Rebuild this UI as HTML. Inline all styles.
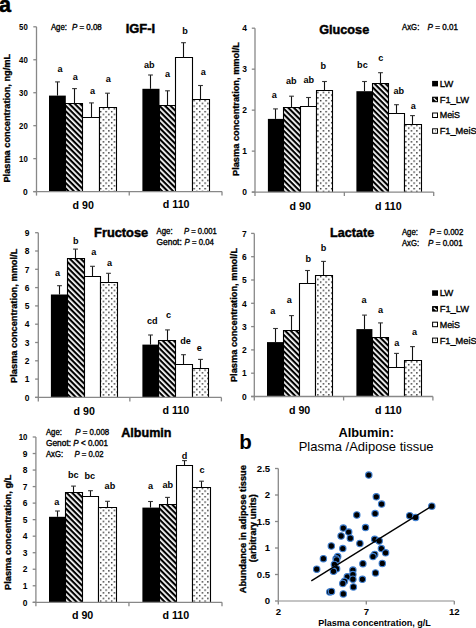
<!DOCTYPE html>
<html><head><meta charset="utf-8"><style>
html,body{margin:0;padding:0;background:#fff;width:476px;height:628px;overflow:hidden}
svg{display:block}
</style></head><body>
<svg width="476" height="628" viewBox="0 0 476 628" font-family='"Liberation Sans", sans-serif'>
<defs>
<pattern id="hatch" patternUnits="userSpaceOnUse" width="3.9" height="3.9" patternTransform="rotate(-45)">
<rect width="3.9" height="3.9" fill="#000"/><rect x="0" y="0" width="1.75" height="3.9" fill="#fff"/>
</pattern>
<pattern id="dots" patternUnits="userSpaceOnUse" width="5.5" height="5.5">
<rect width="5.5" height="5.5" fill="#fff"/>
<rect x="1" y="1" width="1.3" height="1.3" fill="#000"/>
<rect x="3.75" y="3.75" width="1.3" height="1.3" fill="#000"/>
</pattern>
</defs>
<rect width="476" height="628" fill="#fff"/>
<text x="-0.9" y="11.5" font-size="21.5" font-weight="bold" text-anchor="start" fill="#000" stroke="#000" stroke-width="0.6">a</text>
<text x="239.2" y="448.9" font-size="20.5" font-weight="bold" text-anchor="start" fill="#000">b</text>
<rect x="49.00" y="95.6" width="16.80" height="96.00" fill="#000"/>
<rect x="65.80" y="103.1" width="17.20" height="88.50" fill="url(#hatch)"/>
<path d="M65.5 191.6V103.5H82.5V191.6" fill="none" stroke="#000" stroke-width="1.1"/>
<rect x="83.00" y="117.7" width="16.50" height="73.90" fill="#fff"/>
<path d="M82.5 191.6V117.5H99.5V191.6" fill="none" stroke="#000" stroke-width="1.1"/>
<rect x="99.50" y="107.1" width="17.10" height="84.50" fill="url(#dots)"/>
<path d="M99.5 191.6V107.5H116.5V191.6" fill="none" stroke="#000" stroke-width="1.1"/>
<line x1="57.5" y1="95.6" x2="57.5" y2="81.9" stroke="#111" stroke-width="1.1"/>
<line x1="55.1" y1="81.9" x2="59.9" y2="81.9" stroke="#333" stroke-width="1.1"/>
<line x1="74.5" y1="103.1" x2="74.5" y2="88.6" stroke="#111" stroke-width="1.1"/>
<line x1="72.1" y1="88.6" x2="76.9" y2="88.6" stroke="#333" stroke-width="1.1"/>
<line x1="91.5" y1="117.7" x2="91.5" y2="102.9" stroke="#111" stroke-width="1.1"/>
<line x1="89.1" y1="102.9" x2="93.9" y2="102.9" stroke="#333" stroke-width="1.1"/>
<line x1="107.5" y1="107.1" x2="107.5" y2="93.2" stroke="#111" stroke-width="1.1"/>
<line x1="105.1" y1="93.2" x2="109.9" y2="93.2" stroke="#333" stroke-width="1.1"/>
<rect x="142.40" y="88.8" width="17.10" height="102.80" fill="#000"/>
<rect x="159.50" y="105.7" width="16.50" height="85.90" fill="url(#hatch)"/>
<path d="M159.5 191.6V105.5H175.5V191.6" fill="none" stroke="#000" stroke-width="1.1"/>
<rect x="176.00" y="57.8" width="16.30" height="133.80" fill="#fff"/>
<path d="M175.5 191.6V57.5H192.5V191.6" fill="none" stroke="#000" stroke-width="1.1"/>
<rect x="192.30" y="99.7" width="17.70" height="91.90" fill="url(#dots)"/>
<path d="M192.5 191.6V99.5H209.5V191.6" fill="none" stroke="#000" stroke-width="1.1"/>
<line x1="150.5" y1="88.8" x2="150.5" y2="75.0" stroke="#111" stroke-width="1.1"/>
<line x1="148.1" y1="75.0" x2="152.9" y2="75.0" stroke="#333" stroke-width="1.1"/>
<line x1="167.5" y1="105.7" x2="167.5" y2="90.8" stroke="#111" stroke-width="1.1"/>
<line x1="165.1" y1="90.8" x2="169.9" y2="90.8" stroke="#333" stroke-width="1.1"/>
<line x1="183.5" y1="57.8" x2="183.5" y2="42.7" stroke="#111" stroke-width="1.1"/>
<line x1="181.1" y1="42.7" x2="185.9" y2="42.7" stroke="#333" stroke-width="1.1"/>
<line x1="200.5" y1="99.7" x2="200.5" y2="85.5" stroke="#111" stroke-width="1.1"/>
<line x1="198.1" y1="85.5" x2="202.9" y2="85.5" stroke="#333" stroke-width="1.1"/>
<line x1="36.5" y1="26.8" x2="36.5" y2="191.6" stroke="#888888" stroke-width="1.3"/>
<line x1="33.3" y1="191.6" x2="222" y2="191.6" stroke="#888888" stroke-width="1.3"/>
<line x1="33.3" y1="191.6" x2="36.5" y2="191.6" stroke="#888888" stroke-width="1.3"/>
<text x="27.8" y="194.79999999999998" font-size="9" font-weight="bold" text-anchor="end" textLength="4.7" lengthAdjust="spacingAndGlyphs" fill="#000">0</text>
<line x1="33.3" y1="158.64" x2="36.5" y2="158.64" stroke="#888888" stroke-width="1.3"/>
<text x="27.8" y="161.83999999999997" font-size="9" font-weight="bold" text-anchor="end" textLength="8.7" lengthAdjust="spacingAndGlyphs" fill="#000">10</text>
<line x1="33.3" y1="125.68" x2="36.5" y2="125.68" stroke="#888888" stroke-width="1.3"/>
<text x="27.8" y="128.88" font-size="9" font-weight="bold" text-anchor="end" textLength="8.7" lengthAdjust="spacingAndGlyphs" fill="#000">20</text>
<line x1="33.3" y1="92.72" x2="36.5" y2="92.72" stroke="#888888" stroke-width="1.3"/>
<text x="27.8" y="95.92" font-size="9" font-weight="bold" text-anchor="end" textLength="8.7" lengthAdjust="spacingAndGlyphs" fill="#000">30</text>
<line x1="33.3" y1="59.76000000000002" x2="36.5" y2="59.76000000000002" stroke="#888888" stroke-width="1.3"/>
<text x="27.8" y="62.96000000000002" font-size="9" font-weight="bold" text-anchor="end" textLength="8.7" lengthAdjust="spacingAndGlyphs" fill="#000">40</text>
<line x1="33.3" y1="26.80000000000001" x2="36.5" y2="26.80000000000001" stroke="#888888" stroke-width="1.3"/>
<text x="27.8" y="30.00000000000001" font-size="9" font-weight="bold" text-anchor="end" textLength="8.7" lengthAdjust="spacingAndGlyphs" fill="#000">50</text>
<line x1="36.5" y1="191.6" x2="36.5" y2="195.6" stroke="#888888" stroke-width="1.3"/>
<line x1="129.25" y1="191.6" x2="129.25" y2="195.6" stroke="#888888" stroke-width="1.3"/>
<line x1="222" y1="191.6" x2="222" y2="195.6" stroke="#888888" stroke-width="1.3"/>
<text x="57.6" y="71.8" font-size="9.1" font-weight="bold" text-anchor="start" fill="#000">a</text>
<text x="72.7" y="79.9" font-size="9.1" font-weight="bold" text-anchor="start" fill="#000">a</text>
<text x="90.0" y="93.7" font-size="9.1" font-weight="bold" text-anchor="start" fill="#000">a</text>
<text x="105.8" y="81.9" font-size="9.1" font-weight="bold" text-anchor="start" fill="#000">a</text>
<text x="144.0" y="67.9" font-size="9.1" font-weight="bold" text-anchor="start" fill="#000">ab</text>
<text x="165.0" y="76.7" font-size="9.1" font-weight="bold" text-anchor="start" fill="#000">a</text>
<text x="182.3" y="34.4" font-size="9.1" font-weight="bold" text-anchor="start" fill="#000">b</text>
<text x="200.7" y="74.7" font-size="9.1" font-weight="bold" text-anchor="start" fill="#000">a</text>
<text x="83.2" y="208.5" font-size="10.2" font-weight="bold" text-anchor="middle" textLength="21.3" lengthAdjust="spacingAndGlyphs" fill="#000">d 90</text>
<text x="176.2" y="208.4" font-size="10.2" font-weight="bold" text-anchor="middle" textLength="26.7" lengthAdjust="spacingAndGlyphs" fill="#000">d 110</text>
<text x="125.7" y="33.3" font-size="12.6" font-weight="bold" text-anchor="start" textLength="29.4" lengthAdjust="spacingAndGlyphs" fill="#000" stroke="#000" stroke-width="0.45">IGF-I</text>
<text transform="translate(9.7,118.25) rotate(-90)" x="0" y="0" font-size="8.6" font-weight="bold" stroke="#000" stroke-width="0.3" text-anchor="middle" textLength="128.7" lengthAdjust="spacingAndGlyphs">Plasma concentration, ng/mL</text>
<text x="50.9" y="29.8" font-size="8.4" text-anchor="start" textLength="16.0" lengthAdjust="spacingAndGlyphs" fill="#000" stroke="#000" stroke-width="0.35">Age:</text>
<text x="71.9" y="29.8" font-size="8.4" font-style="italic" textLength="29.9" lengthAdjust="spacingAndGlyphs" stroke="#000" stroke-width="0.35">P<tspan font-style="normal"> = 0.08</tspan></text>
<rect x="267.90" y="118.9" width="15.90" height="73.20" fill="#000"/>
<rect x="283.80" y="107.6" width="16.50" height="84.50" fill="url(#hatch)"/>
<path d="M283.5 192.1V107.5H300.5V192.1" fill="none" stroke="#000" stroke-width="1.1"/>
<rect x="300.30" y="106.4" width="16.00" height="85.70" fill="#fff"/>
<path d="M300.5 192.1V106.5H316.5V192.1" fill="none" stroke="#000" stroke-width="1.1"/>
<rect x="316.30" y="90.5" width="16.30" height="101.60" fill="url(#dots)"/>
<path d="M316.5 192.1V90.5H332.5V192.1" fill="none" stroke="#000" stroke-width="1.1"/>
<line x1="275.5" y1="118.9" x2="275.5" y2="108.9" stroke="#111" stroke-width="1.1"/>
<line x1="273.1" y1="108.9" x2="277.9" y2="108.9" stroke="#333" stroke-width="1.1"/>
<line x1="291.5" y1="107.6" x2="291.5" y2="96.2" stroke="#111" stroke-width="1.1"/>
<line x1="289.1" y1="96.2" x2="293.9" y2="96.2" stroke="#333" stroke-width="1.1"/>
<line x1="308.5" y1="106.4" x2="308.5" y2="97.5" stroke="#111" stroke-width="1.1"/>
<line x1="306.1" y1="97.5" x2="310.9" y2="97.5" stroke="#333" stroke-width="1.1"/>
<line x1="324.5" y1="90.5" x2="324.5" y2="81.5" stroke="#111" stroke-width="1.1"/>
<line x1="322.1" y1="81.5" x2="326.9" y2="81.5" stroke="#333" stroke-width="1.1"/>
<rect x="356.40" y="91.2" width="16.30" height="100.90" fill="#000"/>
<rect x="372.70" y="83.7" width="16.30" height="108.40" fill="url(#hatch)"/>
<path d="M372.5 192.1V83.5H388.5V192.1" fill="none" stroke="#000" stroke-width="1.1"/>
<rect x="389.00" y="113.9" width="15.60" height="78.20" fill="#fff"/>
<path d="M388.5 192.1V113.5H404.5V192.1" fill="none" stroke="#000" stroke-width="1.1"/>
<rect x="404.60" y="124.0" width="16.80" height="68.10" fill="url(#dots)"/>
<path d="M404.5 192.1V124.5H421.5V192.1" fill="none" stroke="#000" stroke-width="1.1"/>
<line x1="364.5" y1="91.2" x2="364.5" y2="81.5" stroke="#111" stroke-width="1.1"/>
<line x1="362.1" y1="81.5" x2="366.9" y2="81.5" stroke="#333" stroke-width="1.1"/>
<line x1="380.5" y1="83.7" x2="380.5" y2="72.7" stroke="#111" stroke-width="1.1"/>
<line x1="378.1" y1="72.7" x2="382.9" y2="72.7" stroke="#333" stroke-width="1.1"/>
<line x1="396.5" y1="113.9" x2="396.5" y2="104.7" stroke="#111" stroke-width="1.1"/>
<line x1="394.1" y1="104.7" x2="398.9" y2="104.7" stroke="#333" stroke-width="1.1"/>
<line x1="412.5" y1="124.0" x2="412.5" y2="115.6" stroke="#111" stroke-width="1.1"/>
<line x1="410.1" y1="115.6" x2="414.9" y2="115.6" stroke="#333" stroke-width="1.1"/>
<line x1="255.0" y1="28.2" x2="255.0" y2="192.1" stroke="#888888" stroke-width="1.3"/>
<line x1="251.8" y1="192.1" x2="433.7" y2="192.1" stroke="#888888" stroke-width="1.3"/>
<line x1="251.8" y1="192.1" x2="255.0" y2="192.1" stroke="#888888" stroke-width="1.3"/>
<text x="247.0" y="195.29999999999998" font-size="9" font-weight="bold" text-anchor="end" textLength="4.7" lengthAdjust="spacingAndGlyphs" fill="#000">0</text>
<line x1="251.8" y1="151.125" x2="255.0" y2="151.125" stroke="#888888" stroke-width="1.3"/>
<text x="247.0" y="154.325" font-size="9" font-weight="bold" text-anchor="end" textLength="4.7" lengthAdjust="spacingAndGlyphs" fill="#000">1</text>
<line x1="251.8" y1="110.14999999999999" x2="255.0" y2="110.14999999999999" stroke="#888888" stroke-width="1.3"/>
<text x="247.0" y="113.35" font-size="9" font-weight="bold" text-anchor="end" textLength="4.7" lengthAdjust="spacingAndGlyphs" fill="#000">2</text>
<line x1="251.8" y1="69.17499999999998" x2="255.0" y2="69.17499999999998" stroke="#888888" stroke-width="1.3"/>
<text x="247.0" y="72.37499999999999" font-size="9" font-weight="bold" text-anchor="end" textLength="4.7" lengthAdjust="spacingAndGlyphs" fill="#000">3</text>
<line x1="251.8" y1="28.19999999999999" x2="255.0" y2="28.19999999999999" stroke="#888888" stroke-width="1.3"/>
<text x="247.0" y="31.399999999999988" font-size="9" font-weight="bold" text-anchor="end" textLength="4.7" lengthAdjust="spacingAndGlyphs" fill="#000">4</text>
<line x1="255.0" y1="192.1" x2="255.0" y2="196.1" stroke="#888888" stroke-width="1.3"/>
<line x1="344.35" y1="192.1" x2="344.35" y2="196.1" stroke="#888888" stroke-width="1.3"/>
<line x1="433.7" y1="192.1" x2="433.7" y2="196.1" stroke="#888888" stroke-width="1.3"/>
<text x="271.7" y="98.1" font-size="9.1" font-weight="bold" text-anchor="start" fill="#000">a</text>
<text x="285.9" y="84.3" font-size="9.1" font-weight="bold" text-anchor="start" fill="#000">ab</text>
<text x="303.5" y="83.4" font-size="9.1" font-weight="bold" text-anchor="start" fill="#000">ab</text>
<text x="320.5" y="69.2" font-size="9.1" font-weight="bold" text-anchor="start" fill="#000">b</text>
<text x="357.1" y="68.2" font-size="9.1" font-weight="bold" text-anchor="start" fill="#000">bc</text>
<text x="378.2" y="60.5" font-size="9.1" font-weight="bold" text-anchor="start" fill="#000">c</text>
<text x="393.4" y="93.7" font-size="9.1" font-weight="bold" text-anchor="start" fill="#000">ab</text>
<text x="410.8" y="109.2" font-size="9.1" font-weight="bold" text-anchor="start" fill="#000">a</text>
<text x="300.2" y="209.5" font-size="10.2" font-weight="bold" text-anchor="middle" textLength="21.3" lengthAdjust="spacingAndGlyphs" fill="#000">d 90</text>
<text x="388.3" y="209.5" font-size="10.2" font-weight="bold" text-anchor="middle" textLength="26.7" lengthAdjust="spacingAndGlyphs" fill="#000">d 110</text>
<text x="319.2" y="34.0" font-size="13.2" font-weight="bold" text-anchor="start" textLength="50.0" lengthAdjust="spacingAndGlyphs" fill="#000" stroke="#000" stroke-width="0.45">Glucose</text>
<text transform="translate(238.6,109.0) rotate(-90)" x="0" y="0" font-size="8.6" font-weight="bold" stroke="#000" stroke-width="0.3" text-anchor="middle" textLength="134.0" lengthAdjust="spacingAndGlyphs">Plasma concentration, mmol/L</text>
<text x="402.1" y="30.1" font-size="8.4" text-anchor="start" textLength="17.2" lengthAdjust="spacingAndGlyphs" fill="#000" stroke="#000" stroke-width="0.35">AxG:</text>
<text x="427.6" y="30.1" font-size="8.4" font-style="italic" textLength="30.3" lengthAdjust="spacingAndGlyphs" stroke="#000" stroke-width="0.35">P<tspan font-style="normal"> = 0.01</tspan></text>
<rect x="432.1" y="80.90" width="5.9" height="5.5" fill="#000"/>
<text x="439.7" y="86.8" font-size="9.8" text-anchor="start" textLength="13.6" lengthAdjust="spacingAndGlyphs" fill="#000" stroke="#000" stroke-width="0.35">LW</text>
<rect x="432.6" y="97.20" width="4.9" height="4.5" fill="#000" stroke="#000" stroke-width="1"/>
<line x1="433.70000000000005" y1="98.30" x2="436.70000000000005" y2="100.90" stroke="#fff" stroke-width="1.2"/>
<text x="439.7" y="102.6" font-size="9.8" text-anchor="start" textLength="29.4" lengthAdjust="spacingAndGlyphs" fill="#000" stroke="#000" stroke-width="0.35">F1_LW</text>
<rect x="432.6" y="113.00" width="4.9" height="4.5" fill="#fff" stroke="#000" stroke-width="1"/>
<text x="439.7" y="118.4" font-size="9.8" text-anchor="start" textLength="20.4" lengthAdjust="spacingAndGlyphs" fill="#000" stroke="#000" stroke-width="0.35">MeiS</text>
<rect x="432.6" y="128.80" width="4.9" height="4.5" fill="#fff" stroke="#000" stroke-width="1"/>
<rect x="435.1" y="130.30" width="1" height="1" fill="#666"/>
<text x="439.7" y="134.2" font-size="9.8" text-anchor="start" textLength="37.0" lengthAdjust="spacingAndGlyphs" fill="#000" stroke="#000" stroke-width="0.35">F1_MeiS</text>
<rect x="50.90" y="294.5" width="16.80" height="102.90" fill="#000"/>
<rect x="67.70" y="258.4" width="16.80" height="139.00" fill="url(#hatch)"/>
<path d="M67.5 397.4V258.5H84.5V397.4" fill="none" stroke="#000" stroke-width="1.1"/>
<rect x="84.50" y="276.3" width="16.00" height="121.10" fill="#fff"/>
<path d="M84.5 397.4V276.5H100.5V397.4" fill="none" stroke="#000" stroke-width="1.1"/>
<rect x="100.50" y="282.4" width="17.10" height="115.00" fill="url(#dots)"/>
<path d="M100.5 397.4V282.5H117.5V397.4" fill="none" stroke="#000" stroke-width="1.1"/>
<line x1="59.5" y1="294.5" x2="59.5" y2="285.7" stroke="#111" stroke-width="1.1"/>
<line x1="57.1" y1="285.7" x2="61.9" y2="285.7" stroke="#333" stroke-width="1.1"/>
<line x1="75.5" y1="258.4" x2="75.5" y2="249.1" stroke="#111" stroke-width="1.1"/>
<line x1="73.1" y1="249.1" x2="77.9" y2="249.1" stroke="#333" stroke-width="1.1"/>
<line x1="92.5" y1="276.3" x2="92.5" y2="266.3" stroke="#111" stroke-width="1.1"/>
<line x1="90.1" y1="266.3" x2="94.9" y2="266.3" stroke="#333" stroke-width="1.1"/>
<line x1="108.5" y1="282.4" x2="108.5" y2="273.3" stroke="#111" stroke-width="1.1"/>
<line x1="106.1" y1="273.3" x2="110.9" y2="273.3" stroke="#333" stroke-width="1.1"/>
<rect x="142.40" y="344.6" width="16.80" height="52.80" fill="#000"/>
<rect x="159.20" y="340.2" width="16.80" height="57.20" fill="url(#hatch)"/>
<path d="M158.5 397.4V340.5H175.5V397.4" fill="none" stroke="#000" stroke-width="1.1"/>
<rect x="176.00" y="364.3" width="16.30" height="33.10" fill="#fff"/>
<path d="M175.5 397.4V364.5H192.5V397.4" fill="none" stroke="#000" stroke-width="1.1"/>
<rect x="192.30" y="368.1" width="16.80" height="29.30" fill="url(#dots)"/>
<path d="M192.5 397.4V368.5H208.5V397.4" fill="none" stroke="#000" stroke-width="1.1"/>
<line x1="150.5" y1="344.6" x2="150.5" y2="335.0" stroke="#111" stroke-width="1.1"/>
<line x1="148.1" y1="335.0" x2="152.9" y2="335.0" stroke="#333" stroke-width="1.1"/>
<line x1="167.5" y1="340.2" x2="167.5" y2="329.9" stroke="#111" stroke-width="1.1"/>
<line x1="165.1" y1="329.9" x2="169.9" y2="329.9" stroke="#333" stroke-width="1.1"/>
<line x1="183.5" y1="364.3" x2="183.5" y2="354.7" stroke="#111" stroke-width="1.1"/>
<line x1="181.1" y1="354.7" x2="185.9" y2="354.7" stroke="#333" stroke-width="1.1"/>
<line x1="200.5" y1="368.1" x2="200.5" y2="359.4" stroke="#111" stroke-width="1.1"/>
<line x1="198.1" y1="359.4" x2="202.9" y2="359.4" stroke="#333" stroke-width="1.1"/>
<line x1="38.3" y1="232.7" x2="38.3" y2="397.4" stroke="#888888" stroke-width="1.3"/>
<line x1="35.099999999999994" y1="397.4" x2="221.4" y2="397.4" stroke="#888888" stroke-width="1.3"/>
<line x1="35.099999999999994" y1="397.4" x2="38.3" y2="397.4" stroke="#888888" stroke-width="1.3"/>
<text x="29.4" y="400.59999999999997" font-size="9" font-weight="bold" text-anchor="end" textLength="4.7" lengthAdjust="spacingAndGlyphs" fill="#000">0</text>
<line x1="35.099999999999994" y1="379.09999999999997" x2="38.3" y2="379.09999999999997" stroke="#888888" stroke-width="1.3"/>
<text x="29.4" y="382.29999999999995" font-size="9" font-weight="bold" text-anchor="end" textLength="4.7" lengthAdjust="spacingAndGlyphs" fill="#000">1</text>
<line x1="35.099999999999994" y1="360.79999999999995" x2="38.3" y2="360.79999999999995" stroke="#888888" stroke-width="1.3"/>
<text x="29.4" y="363.99999999999994" font-size="9" font-weight="bold" text-anchor="end" textLength="4.7" lengthAdjust="spacingAndGlyphs" fill="#000">2</text>
<line x1="35.099999999999994" y1="342.5" x2="38.3" y2="342.5" stroke="#888888" stroke-width="1.3"/>
<text x="29.4" y="345.7" font-size="9" font-weight="bold" text-anchor="end" textLength="4.7" lengthAdjust="spacingAndGlyphs" fill="#000">3</text>
<line x1="35.099999999999994" y1="324.2" x2="38.3" y2="324.2" stroke="#888888" stroke-width="1.3"/>
<text x="29.4" y="327.4" font-size="9" font-weight="bold" text-anchor="end" textLength="4.7" lengthAdjust="spacingAndGlyphs" fill="#000">4</text>
<line x1="35.099999999999994" y1="305.9" x2="38.3" y2="305.9" stroke="#888888" stroke-width="1.3"/>
<text x="29.4" y="309.09999999999997" font-size="9" font-weight="bold" text-anchor="end" textLength="4.7" lengthAdjust="spacingAndGlyphs" fill="#000">5</text>
<line x1="35.099999999999994" y1="287.59999999999997" x2="38.3" y2="287.59999999999997" stroke="#888888" stroke-width="1.3"/>
<text x="29.4" y="290.79999999999995" font-size="9" font-weight="bold" text-anchor="end" textLength="4.7" lengthAdjust="spacingAndGlyphs" fill="#000">6</text>
<line x1="35.099999999999994" y1="269.29999999999995" x2="38.3" y2="269.29999999999995" stroke="#888888" stroke-width="1.3"/>
<text x="29.4" y="272.49999999999994" font-size="9" font-weight="bold" text-anchor="end" textLength="4.7" lengthAdjust="spacingAndGlyphs" fill="#000">7</text>
<line x1="35.099999999999994" y1="251.0" x2="38.3" y2="251.0" stroke="#888888" stroke-width="1.3"/>
<text x="29.4" y="254.2" font-size="9" font-weight="bold" text-anchor="end" textLength="4.7" lengthAdjust="spacingAndGlyphs" fill="#000">8</text>
<line x1="35.099999999999994" y1="232.7" x2="38.3" y2="232.7" stroke="#888888" stroke-width="1.3"/>
<text x="29.4" y="235.89999999999998" font-size="9" font-weight="bold" text-anchor="end" textLength="4.7" lengthAdjust="spacingAndGlyphs" fill="#000">9</text>
<line x1="38.3" y1="397.4" x2="38.3" y2="401.4" stroke="#888888" stroke-width="1.3"/>
<line x1="129.85" y1="397.4" x2="129.85" y2="401.4" stroke="#888888" stroke-width="1.3"/>
<line x1="221.4" y1="397.4" x2="221.4" y2="401.4" stroke="#888888" stroke-width="1.3"/>
<text x="55.0" y="276.1" font-size="9.1" font-weight="bold" text-anchor="start" fill="#000">a</text>
<text x="73.1" y="244.1" font-size="9.1" font-weight="bold" text-anchor="start" fill="#000">b</text>
<text x="91.3" y="254.9" font-size="9.1" font-weight="bold" text-anchor="start" fill="#000">a</text>
<text x="107.1" y="265.5" font-size="9.1" font-weight="bold" text-anchor="start" fill="#000">a</text>
<text x="146.9" y="324.1" font-size="9.1" font-weight="bold" text-anchor="start" fill="#000">cd</text>
<text x="166.0" y="318.1" font-size="9.1" font-weight="bold" text-anchor="start" fill="#000">c</text>
<text x="180.3" y="344.0" font-size="9.1" font-weight="bold" text-anchor="start" fill="#000">de</text>
<text x="196.8" y="350.6" font-size="9.1" font-weight="bold" text-anchor="start" fill="#000">e</text>
<text x="84.2" y="414.5" font-size="10.2" font-weight="bold" text-anchor="middle" textLength="21.3" lengthAdjust="spacingAndGlyphs" fill="#000">d 90</text>
<text x="175.8" y="414.2" font-size="10.2" font-weight="bold" text-anchor="middle" textLength="26.7" lengthAdjust="spacingAndGlyphs" fill="#000">d 110</text>
<text x="94.1" y="237.2" font-size="12.6" font-weight="bold" text-anchor="start" textLength="54.1" lengthAdjust="spacingAndGlyphs" fill="#000" stroke="#000" stroke-width="0.45">Fructose</text>
<text transform="translate(16.6,315.8) rotate(-90)" x="0" y="0" font-size="8.6" font-weight="bold" stroke="#000" stroke-width="0.3" text-anchor="middle" textLength="134.2" lengthAdjust="spacingAndGlyphs">Plasma concentration, mmol/L</text>
<text x="156.6" y="234.1" font-size="8.4" text-anchor="start" textLength="16.0" lengthAdjust="spacingAndGlyphs" fill="#000" stroke="#000" stroke-width="0.35">Age:</text>
<text x="183.9" y="234.1" font-size="8.4" font-style="italic" textLength="33.0" lengthAdjust="spacingAndGlyphs" stroke="#000" stroke-width="0.35">P<tspan font-style="normal"> = 0.001</tspan></text>
<text x="156.6" y="245.2" font-size="8.4" text-anchor="start" textLength="25.2" lengthAdjust="spacingAndGlyphs" fill="#000" stroke="#000" stroke-width="0.35">Genot:</text>
<text x="184.6" y="245.2" font-size="8.4" font-style="italic" textLength="29.2" lengthAdjust="spacingAndGlyphs" stroke="#000" stroke-width="0.35">P<tspan font-style="normal"> = 0.04</tspan></text>
<rect x="267.00" y="342.1" width="16.50" height="54.40" fill="#000"/>
<rect x="283.50" y="330.8" width="16.30" height="65.70" fill="url(#hatch)"/>
<path d="M283.5 396.5V330.5H299.5V396.5" fill="none" stroke="#000" stroke-width="1.1"/>
<rect x="299.80" y="283.6" width="16.00" height="112.90" fill="#fff"/>
<path d="M299.5 396.5V283.5H315.5V396.5" fill="none" stroke="#000" stroke-width="1.1"/>
<rect x="315.80" y="275.0" width="16.50" height="121.50" fill="url(#dots)"/>
<path d="M315.5 396.5V275.5H332.5V396.5" fill="none" stroke="#000" stroke-width="1.1"/>
<line x1="275.5" y1="342.1" x2="275.5" y2="328.5" stroke="#111" stroke-width="1.1"/>
<line x1="273.1" y1="328.5" x2="277.9" y2="328.5" stroke="#333" stroke-width="1.1"/>
<line x1="291.5" y1="330.8" x2="291.5" y2="315.6" stroke="#111" stroke-width="1.1"/>
<line x1="289.1" y1="315.6" x2="293.9" y2="315.6" stroke="#333" stroke-width="1.1"/>
<line x1="307.5" y1="283.6" x2="307.5" y2="270.5" stroke="#111" stroke-width="1.1"/>
<line x1="305.1" y1="270.5" x2="309.9" y2="270.5" stroke="#333" stroke-width="1.1"/>
<line x1="323.5" y1="275.0" x2="323.5" y2="261.4" stroke="#111" stroke-width="1.1"/>
<line x1="321.1" y1="261.4" x2="325.9" y2="261.4" stroke="#333" stroke-width="1.1"/>
<rect x="356.40" y="329.1" width="16.00" height="67.40" fill="#000"/>
<rect x="372.40" y="337.7" width="15.90" height="58.80" fill="url(#hatch)"/>
<path d="M372.5 396.5V337.5H388.5V396.5" fill="none" stroke="#000" stroke-width="1.1"/>
<rect x="388.30" y="367.1" width="16.30" height="29.40" fill="#fff"/>
<path d="M388.5 396.5V367.5H404.5V396.5" fill="none" stroke="#000" stroke-width="1.1"/>
<rect x="404.60" y="360.0" width="16.80" height="36.50" fill="url(#dots)"/>
<path d="M404.5 396.5V360.5H421.5V396.5" fill="none" stroke="#000" stroke-width="1.1"/>
<line x1="364.5" y1="329.1" x2="364.5" y2="315.1" stroke="#111" stroke-width="1.1"/>
<line x1="362.1" y1="315.1" x2="366.9" y2="315.1" stroke="#333" stroke-width="1.1"/>
<line x1="380.5" y1="337.7" x2="380.5" y2="322.9" stroke="#111" stroke-width="1.1"/>
<line x1="378.1" y1="322.9" x2="382.9" y2="322.9" stroke="#333" stroke-width="1.1"/>
<line x1="396.5" y1="367.1" x2="396.5" y2="353.4" stroke="#111" stroke-width="1.1"/>
<line x1="394.1" y1="353.4" x2="398.9" y2="353.4" stroke="#333" stroke-width="1.1"/>
<line x1="412.5" y1="360.0" x2="412.5" y2="346.6" stroke="#111" stroke-width="1.1"/>
<line x1="410.1" y1="346.6" x2="414.9" y2="346.6" stroke="#333" stroke-width="1.1"/>
<line x1="254.3" y1="233.4" x2="254.3" y2="396.5" stroke="#888888" stroke-width="1.3"/>
<line x1="251.10000000000002" y1="396.5" x2="432.9" y2="396.5" stroke="#888888" stroke-width="1.3"/>
<line x1="251.10000000000002" y1="396.5" x2="254.3" y2="396.5" stroke="#888888" stroke-width="1.3"/>
<text x="246.6" y="399.7" font-size="9" font-weight="bold" text-anchor="end" textLength="4.7" lengthAdjust="spacingAndGlyphs" fill="#000">0</text>
<line x1="251.10000000000002" y1="373.2" x2="254.3" y2="373.2" stroke="#888888" stroke-width="1.3"/>
<text x="246.6" y="376.4" font-size="9" font-weight="bold" text-anchor="end" textLength="4.7" lengthAdjust="spacingAndGlyphs" fill="#000">1</text>
<line x1="251.10000000000002" y1="349.9" x2="254.3" y2="349.9" stroke="#888888" stroke-width="1.3"/>
<text x="246.6" y="353.09999999999997" font-size="9" font-weight="bold" text-anchor="end" textLength="4.7" lengthAdjust="spacingAndGlyphs" fill="#000">2</text>
<line x1="251.10000000000002" y1="326.6" x2="254.3" y2="326.6" stroke="#888888" stroke-width="1.3"/>
<text x="246.6" y="329.8" font-size="9" font-weight="bold" text-anchor="end" textLength="4.7" lengthAdjust="spacingAndGlyphs" fill="#000">3</text>
<line x1="251.10000000000002" y1="303.3" x2="254.3" y2="303.3" stroke="#888888" stroke-width="1.3"/>
<text x="246.6" y="306.5" font-size="9" font-weight="bold" text-anchor="end" textLength="4.7" lengthAdjust="spacingAndGlyphs" fill="#000">4</text>
<line x1="251.10000000000002" y1="280.0" x2="254.3" y2="280.0" stroke="#888888" stroke-width="1.3"/>
<text x="246.6" y="283.2" font-size="9" font-weight="bold" text-anchor="end" textLength="4.7" lengthAdjust="spacingAndGlyphs" fill="#000">5</text>
<line x1="251.10000000000002" y1="256.70000000000005" x2="254.3" y2="256.70000000000005" stroke="#888888" stroke-width="1.3"/>
<text x="246.6" y="259.90000000000003" font-size="9" font-weight="bold" text-anchor="end" textLength="4.7" lengthAdjust="spacingAndGlyphs" fill="#000">6</text>
<line x1="251.10000000000002" y1="233.4" x2="254.3" y2="233.4" stroke="#888888" stroke-width="1.3"/>
<text x="246.6" y="236.6" font-size="9" font-weight="bold" text-anchor="end" textLength="4.7" lengthAdjust="spacingAndGlyphs" fill="#000">7</text>
<line x1="254.3" y1="396.5" x2="254.3" y2="400.5" stroke="#888888" stroke-width="1.3"/>
<line x1="343.6" y1="396.5" x2="343.6" y2="400.5" stroke="#888888" stroke-width="1.3"/>
<line x1="432.9" y1="396.5" x2="432.9" y2="400.5" stroke="#888888" stroke-width="1.3"/>
<text x="270.3" y="313.9" font-size="9.1" font-weight="bold" text-anchor="start" fill="#000">a</text>
<text x="286.7" y="303.3" font-size="9.1" font-weight="bold" text-anchor="start" fill="#000">a</text>
<text x="305.6" y="261.7" font-size="9.1" font-weight="bold" text-anchor="start" fill="#000">b</text>
<text x="320.7" y="250.8" font-size="9.1" font-weight="bold" text-anchor="start" fill="#000">b</text>
<text x="361.4" y="302.9" font-size="9.1" font-weight="bold" text-anchor="start" fill="#000">a</text>
<text x="378.0" y="313.4" font-size="9.1" font-weight="bold" text-anchor="start" fill="#000">a</text>
<text x="394.3" y="345.7" font-size="9.1" font-weight="bold" text-anchor="start" fill="#000">a</text>
<text x="412.0" y="334.9" font-size="9.1" font-weight="bold" text-anchor="start" fill="#000">a</text>
<text x="299.6" y="414.0" font-size="10.2" font-weight="bold" text-anchor="middle" textLength="21.3" lengthAdjust="spacingAndGlyphs" fill="#000">d 90</text>
<text x="388.4" y="414.3" font-size="10.2" font-weight="bold" text-anchor="middle" textLength="26.7" lengthAdjust="spacingAndGlyphs" fill="#000">d 110</text>
<text x="330.1" y="236.6" font-size="13.3" font-weight="bold" text-anchor="start" textLength="44.1" lengthAdjust="spacingAndGlyphs" fill="#000" stroke="#000" stroke-width="0.45">Lactate</text>
<text transform="translate(236.6,315.0) rotate(-90)" x="0" y="0" font-size="8.6" font-weight="bold" stroke="#000" stroke-width="0.3" text-anchor="middle" textLength="134.1" lengthAdjust="spacingAndGlyphs">Plasma concentration, mmol/L</text>
<text x="401.9" y="235.1" font-size="8.4" text-anchor="start" textLength="16.0" lengthAdjust="spacingAndGlyphs" fill="#000" stroke="#000" stroke-width="0.35">Age:</text>
<text x="429.4" y="235.1" font-size="8.4" font-style="italic" textLength="34.0" lengthAdjust="spacingAndGlyphs" stroke="#000" stroke-width="0.35">P<tspan font-style="normal"> = 0.002</tspan></text>
<text x="401.9" y="245.5" font-size="8.4" text-anchor="start" textLength="17.2" lengthAdjust="spacingAndGlyphs" fill="#000" stroke="#000" stroke-width="0.35">AxG:</text>
<text x="428.1" y="245.5" font-size="8.4" font-style="italic" textLength="34.7" lengthAdjust="spacingAndGlyphs" stroke="#000" stroke-width="0.35">P<tspan font-style="normal"> = 0.001</tspan></text>
<rect x="432.1" y="290.30" width="5.9" height="5.5" fill="#000"/>
<text x="439.7" y="296.2" font-size="9.8" text-anchor="start" textLength="13.6" lengthAdjust="spacingAndGlyphs" fill="#000" stroke="#000" stroke-width="0.35">LW</text>
<rect x="432.6" y="306.60" width="4.9" height="4.5" fill="#000" stroke="#000" stroke-width="1"/>
<line x1="433.70000000000005" y1="307.70" x2="436.70000000000005" y2="310.30" stroke="#fff" stroke-width="1.2"/>
<text x="439.7" y="312.0" font-size="9.8" text-anchor="start" textLength="29.4" lengthAdjust="spacingAndGlyphs" fill="#000" stroke="#000" stroke-width="0.35">F1_LW</text>
<rect x="432.6" y="322.20" width="4.9" height="4.5" fill="#fff" stroke="#000" stroke-width="1"/>
<text x="439.7" y="327.6" font-size="9.8" text-anchor="start" textLength="20.4" lengthAdjust="spacingAndGlyphs" fill="#000" stroke="#000" stroke-width="0.35">MeiS</text>
<rect x="432.6" y="338.10" width="4.9" height="4.5" fill="#fff" stroke="#000" stroke-width="1"/>
<rect x="435.1" y="339.60" width="1" height="1" fill="#666"/>
<text x="439.7" y="343.5" font-size="9.8" text-anchor="start" textLength="37.0" lengthAdjust="spacingAndGlyphs" fill="#000" stroke="#000" stroke-width="0.35">F1_MeiS</text>
<rect x="49.00" y="516.8" width="16.80" height="85.50" fill="#000"/>
<rect x="65.80" y="492.7" width="16.50" height="109.60" fill="url(#hatch)"/>
<path d="M65.5 602.3V492.5H82.5V602.3" fill="none" stroke="#000" stroke-width="1.1"/>
<rect x="82.30" y="496.5" width="16.80" height="105.80" fill="#fff"/>
<path d="M82.5 602.3V496.5H98.5V602.3" fill="none" stroke="#000" stroke-width="1.1"/>
<rect x="99.10" y="507.0" width="17.50" height="95.30" fill="url(#dots)"/>
<path d="M98.5 602.3V507.5H116.5V602.3" fill="none" stroke="#000" stroke-width="1.1"/>
<line x1="57.5" y1="516.8" x2="57.5" y2="511.0" stroke="#111" stroke-width="1.1"/>
<line x1="55.1" y1="511.0" x2="59.9" y2="511.0" stroke="#333" stroke-width="1.1"/>
<line x1="73.5" y1="492.7" x2="73.5" y2="486.1" stroke="#111" stroke-width="1.1"/>
<line x1="71.1" y1="486.1" x2="75.9" y2="486.1" stroke="#333" stroke-width="1.1"/>
<line x1="90.5" y1="496.5" x2="90.5" y2="490.7" stroke="#111" stroke-width="1.1"/>
<line x1="88.1" y1="490.7" x2="92.9" y2="490.7" stroke="#333" stroke-width="1.1"/>
<line x1="107.5" y1="507.0" x2="107.5" y2="501.3" stroke="#111" stroke-width="1.1"/>
<line x1="105.1" y1="501.3" x2="109.9" y2="501.3" stroke="#333" stroke-width="1.1"/>
<rect x="142.40" y="507.6" width="17.10" height="94.70" fill="#000"/>
<rect x="159.50" y="504.7" width="17.20" height="97.60" fill="url(#hatch)"/>
<path d="M159.5 602.3V504.5H176.5V602.3" fill="none" stroke="#000" stroke-width="1.1"/>
<rect x="176.70" y="465.3" width="16.10" height="137.00" fill="#fff"/>
<path d="M176.5 602.3V465.5H192.5V602.3" fill="none" stroke="#000" stroke-width="1.1"/>
<rect x="192.80" y="487.4" width="17.50" height="114.90" fill="url(#dots)"/>
<path d="M192.5 602.3V487.5H210.5V602.3" fill="none" stroke="#000" stroke-width="1.1"/>
<line x1="150.5" y1="507.6" x2="150.5" y2="501.5" stroke="#111" stroke-width="1.1"/>
<line x1="148.1" y1="501.5" x2="152.9" y2="501.5" stroke="#333" stroke-width="1.1"/>
<line x1="167.5" y1="504.7" x2="167.5" y2="497.4" stroke="#111" stroke-width="1.1"/>
<line x1="165.1" y1="497.4" x2="169.9" y2="497.4" stroke="#333" stroke-width="1.1"/>
<line x1="184.5" y1="465.3" x2="184.5" y2="460.6" stroke="#111" stroke-width="1.1"/>
<line x1="182.1" y1="460.6" x2="186.9" y2="460.6" stroke="#333" stroke-width="1.1"/>
<line x1="201.5" y1="487.4" x2="201.5" y2="481.2" stroke="#111" stroke-width="1.1"/>
<line x1="199.1" y1="481.2" x2="203.9" y2="481.2" stroke="#333" stroke-width="1.1"/>
<line x1="35.9" y1="437.0" x2="35.9" y2="602.3" stroke="#888888" stroke-width="1.3"/>
<line x1="32.699999999999996" y1="602.3" x2="222" y2="602.3" stroke="#888888" stroke-width="1.3"/>
<line x1="32.699999999999996" y1="602.3" x2="35.9" y2="602.3" stroke="#888888" stroke-width="1.3"/>
<text x="27.4" y="605.5" font-size="9" font-weight="bold" text-anchor="end" textLength="4.7" lengthAdjust="spacingAndGlyphs" fill="#000">0</text>
<line x1="32.699999999999996" y1="585.77" x2="35.9" y2="585.77" stroke="#888888" stroke-width="1.3"/>
<text x="27.4" y="588.97" font-size="9" font-weight="bold" text-anchor="end" textLength="4.7" lengthAdjust="spacingAndGlyphs" fill="#000">1</text>
<line x1="32.699999999999996" y1="569.24" x2="35.9" y2="569.24" stroke="#888888" stroke-width="1.3"/>
<text x="27.4" y="572.44" font-size="9" font-weight="bold" text-anchor="end" textLength="4.7" lengthAdjust="spacingAndGlyphs" fill="#000">2</text>
<line x1="32.699999999999996" y1="552.7099999999999" x2="35.9" y2="552.7099999999999" stroke="#888888" stroke-width="1.3"/>
<text x="27.4" y="555.91" font-size="9" font-weight="bold" text-anchor="end" textLength="4.7" lengthAdjust="spacingAndGlyphs" fill="#000">3</text>
<line x1="32.699999999999996" y1="536.18" x2="35.9" y2="536.18" stroke="#888888" stroke-width="1.3"/>
<text x="27.4" y="539.38" font-size="9" font-weight="bold" text-anchor="end" textLength="4.7" lengthAdjust="spacingAndGlyphs" fill="#000">4</text>
<line x1="32.699999999999996" y1="519.65" x2="35.9" y2="519.65" stroke="#888888" stroke-width="1.3"/>
<text x="27.4" y="522.85" font-size="9" font-weight="bold" text-anchor="end" textLength="4.7" lengthAdjust="spacingAndGlyphs" fill="#000">5</text>
<line x1="32.699999999999996" y1="503.12" x2="35.9" y2="503.12" stroke="#888888" stroke-width="1.3"/>
<text x="27.4" y="506.32" font-size="9" font-weight="bold" text-anchor="end" textLength="4.7" lengthAdjust="spacingAndGlyphs" fill="#000">6</text>
<line x1="32.699999999999996" y1="486.59" x2="35.9" y2="486.59" stroke="#888888" stroke-width="1.3"/>
<text x="27.4" y="489.78999999999996" font-size="9" font-weight="bold" text-anchor="end" textLength="4.7" lengthAdjust="spacingAndGlyphs" fill="#000">7</text>
<line x1="32.699999999999996" y1="470.06" x2="35.9" y2="470.06" stroke="#888888" stroke-width="1.3"/>
<text x="27.4" y="473.26" font-size="9" font-weight="bold" text-anchor="end" textLength="4.7" lengthAdjust="spacingAndGlyphs" fill="#000">8</text>
<line x1="32.699999999999996" y1="453.53" x2="35.9" y2="453.53" stroke="#888888" stroke-width="1.3"/>
<text x="27.4" y="456.72999999999996" font-size="9" font-weight="bold" text-anchor="end" textLength="4.7" lengthAdjust="spacingAndGlyphs" fill="#000">9</text>
<line x1="32.699999999999996" y1="437.0" x2="35.9" y2="437.0" stroke="#888888" stroke-width="1.3"/>
<text x="27.4" y="440.2" font-size="9" font-weight="bold" text-anchor="end" textLength="8.7" lengthAdjust="spacingAndGlyphs" fill="#000">10</text>
<line x1="35.9" y1="602.3" x2="35.9" y2="606.3" stroke="#888888" stroke-width="1.3"/>
<line x1="128.95" y1="602.3" x2="128.95" y2="606.3" stroke="#888888" stroke-width="1.3"/>
<line x1="222" y1="602.3" x2="222" y2="606.3" stroke="#888888" stroke-width="1.3"/>
<text x="54.2" y="505.3" font-size="9.1" font-weight="bold" text-anchor="start" fill="#000">a</text>
<text x="68.0" y="478.0" font-size="9.1" font-weight="bold" text-anchor="start" fill="#000">bc</text>
<text x="84.4" y="478.8" font-size="9.1" font-weight="bold" text-anchor="start" fill="#000">bc</text>
<text x="104.6" y="489.4" font-size="9.1" font-weight="bold" text-anchor="start" fill="#000">ab</text>
<text x="147.9" y="488.8" font-size="9.1" font-weight="bold" text-anchor="start" fill="#000">a</text>
<text x="162.4" y="488.0" font-size="9.1" font-weight="bold" text-anchor="start" fill="#000">ab</text>
<text x="181.8" y="458.5" font-size="9.1" font-weight="bold" text-anchor="start" fill="#000">d</text>
<text x="199.4" y="472.6" font-size="9.1" font-weight="bold" text-anchor="start" fill="#000">c</text>
<text x="82.6" y="619.4" font-size="10.2" font-weight="bold" text-anchor="middle" textLength="21.3" lengthAdjust="spacingAndGlyphs" fill="#000">d 90</text>
<text x="175.8" y="619.4" font-size="10.2" font-weight="bold" text-anchor="middle" textLength="26.7" lengthAdjust="spacingAndGlyphs" fill="#000">d 110</text>
<text x="121.2" y="436.9" font-size="13.2" font-weight="bold" text-anchor="start" textLength="50.3" lengthAdjust="spacingAndGlyphs" fill="#000" stroke="#000" stroke-width="0.45">Albumin</text>
<text transform="translate(10.7,532.35) rotate(-90)" x="0" y="0" font-size="8.6" font-weight="bold" stroke="#000" stroke-width="0.3" text-anchor="middle" textLength="115.3" lengthAdjust="spacingAndGlyphs">Plasma concentration, g/L</text>
<text x="45.9" y="435.1" font-size="8.4" text-anchor="start" textLength="16.0" lengthAdjust="spacingAndGlyphs" fill="#000" stroke="#000" stroke-width="0.35">Age:</text>
<text x="75.3" y="435.1" font-size="8.4" font-style="italic" textLength="33.9" lengthAdjust="spacingAndGlyphs" stroke="#000" stroke-width="0.35">P<tspan font-style="normal"> = 0.008</tspan></text>
<text x="45.9" y="445.5" font-size="8.4" text-anchor="start" textLength="25.2" lengthAdjust="spacingAndGlyphs" fill="#000" stroke="#000" stroke-width="0.35">Genot:</text>
<text x="73.3" y="445.5" font-size="8.4" font-style="italic" textLength="34.8" lengthAdjust="spacingAndGlyphs" stroke="#000" stroke-width="0.35">P<tspan font-style="normal"> &lt; 0.001</tspan></text>
<text x="45.9" y="456.5" font-size="8.4" text-anchor="start" textLength="17.2" lengthAdjust="spacingAndGlyphs" fill="#000" stroke="#000" stroke-width="0.35">AxG:</text>
<text x="74.5" y="456.5" font-size="8.4" font-style="italic" textLength="29.0" lengthAdjust="spacingAndGlyphs" stroke="#000" stroke-width="0.35">P<tspan font-style="normal"> = 0.02</tspan></text>
<text x="366.2" y="436.8" font-size="13" font-weight="bold" text-anchor="middle" textLength="55.4" lengthAdjust="spacingAndGlyphs" fill="#000">Albumin:</text>
<text x="298.7" y="451.1" font-size="13" text-anchor="start" textLength="134.9" lengthAdjust="spacingAndGlyphs" fill="#000">Plasma /Adipose tissue</text>
<line x1="278.3" y1="468.5" x2="278.3" y2="601.0" stroke="#888888" stroke-width="1.3"/>
<line x1="278.3" y1="601.0" x2="454.3" y2="601.0" stroke="#b0b0b0" stroke-width="1.3"/>
<line x1="275.0" y1="601.0" x2="278.3" y2="601.0" stroke="#888888" stroke-width="1.3"/>
<text x="270.2" y="604.4" font-size="9.6" font-weight="bold" text-anchor="end" fill="#000">0</text>
<line x1="275.0" y1="574.5" x2="278.3" y2="574.5" stroke="#888888" stroke-width="1.3"/>
<text x="270.2" y="577.9" font-size="9.6" font-weight="bold" text-anchor="end" fill="#000">0.5</text>
<line x1="275.0" y1="548.0" x2="278.3" y2="548.0" stroke="#888888" stroke-width="1.3"/>
<text x="270.2" y="551.4" font-size="9.6" font-weight="bold" text-anchor="end" fill="#000">1</text>
<line x1="275.0" y1="521.5" x2="278.3" y2="521.5" stroke="#888888" stroke-width="1.3"/>
<text x="270.2" y="524.9" font-size="9.6" font-weight="bold" text-anchor="end" fill="#000">1.5</text>
<line x1="275.0" y1="495.0" x2="278.3" y2="495.0" stroke="#888888" stroke-width="1.3"/>
<text x="270.2" y="498.4" font-size="9.6" font-weight="bold" text-anchor="end" fill="#000">2</text>
<line x1="275.0" y1="468.5" x2="278.3" y2="468.5" stroke="#888888" stroke-width="1.3"/>
<text x="270.2" y="471.9" font-size="9.6" font-weight="bold" text-anchor="end" fill="#000">2.5</text>
<line x1="278.3" y1="601.0" x2="278.3" y2="604.5" stroke="#888888" stroke-width="1.3"/>
<text x="278.3" y="615.4" font-size="9.6" font-weight="bold" text-anchor="middle" fill="#000">2</text>
<line x1="366.3" y1="601.0" x2="366.3" y2="604.5" stroke="#888888" stroke-width="1.3"/>
<text x="366.3" y="615.4" font-size="9.6" font-weight="bold" text-anchor="middle" fill="#000">7</text>
<line x1="454.3" y1="601.0" x2="454.3" y2="604.5" stroke="#888888" stroke-width="1.3"/>
<text x="454.3" y="615.4" font-size="9.6" font-weight="bold" text-anchor="middle" fill="#000">12</text>
<text x="374.5" y="625.6" font-size="8.7" font-weight="bold" text-anchor="middle" textLength="112.7" lengthAdjust="spacingAndGlyphs" fill="#000">Plasma concentration, g/L</text>
<text transform="translate(245.7,529.2) rotate(-90)" x="0" y="0" font-size="8.2" font-weight="bold" stroke="#000" stroke-width="0.3" text-anchor="middle" textLength="128.2" lengthAdjust="spacingAndGlyphs">Abundance in adipose tissue</text>
<text transform="translate(256.0,528.2) rotate(-90)" x="0" y="0" font-size="8.2" font-weight="bold" stroke="#000" stroke-width="0.3" text-anchor="middle" textLength="68.0" lengthAdjust="spacingAndGlyphs">(arbitrary units)</text>
<circle cx="368.8" cy="475.1" r="3.2" fill="#000" stroke="#3f7fd0" stroke-width="1.1"/>
<circle cx="376.3" cy="496.8" r="3.2" fill="#000" stroke="#3f7fd0" stroke-width="1.1"/>
<circle cx="381.6" cy="504.1" r="3.2" fill="#000" stroke="#3f7fd0" stroke-width="1.1"/>
<circle cx="356.8" cy="515.0" r="3.2" fill="#000" stroke="#3f7fd0" stroke-width="1.1"/>
<circle cx="375.1" cy="513.6" r="3.2" fill="#000" stroke="#3f7fd0" stroke-width="1.1"/>
<circle cx="409.7" cy="515.7" r="3.2" fill="#000" stroke="#3f7fd0" stroke-width="1.1"/>
<circle cx="415.6" cy="517.4" r="3.2" fill="#000" stroke="#3f7fd0" stroke-width="1.1"/>
<circle cx="431.8" cy="506.2" r="3.2" fill="#000" stroke="#3f7fd0" stroke-width="1.1"/>
<circle cx="343.3" cy="528.1" r="3.2" fill="#000" stroke="#3f7fd0" stroke-width="1.1"/>
<circle cx="365.5" cy="527.6" r="3.2" fill="#000" stroke="#3f7fd0" stroke-width="1.1"/>
<circle cx="348.7" cy="532.1" r="3.2" fill="#000" stroke="#3f7fd0" stroke-width="1.1"/>
<circle cx="341.1" cy="536.0" r="3.2" fill="#000" stroke="#3f7fd0" stroke-width="1.1"/>
<circle cx="350.3" cy="538.2" r="3.2" fill="#000" stroke="#3f7fd0" stroke-width="1.1"/>
<circle cx="374.7" cy="539.3" r="3.2" fill="#000" stroke="#3f7fd0" stroke-width="1.1"/>
<circle cx="379.2" cy="541.0" r="3.2" fill="#000" stroke="#3f7fd0" stroke-width="1.1"/>
<circle cx="359.9" cy="543.5" r="3.2" fill="#000" stroke="#3f7fd0" stroke-width="1.1"/>
<circle cx="331.3" cy="546.0" r="3.2" fill="#000" stroke="#3f7fd0" stroke-width="1.1"/>
<circle cx="342.8" cy="548.6" r="3.2" fill="#000" stroke="#3f7fd0" stroke-width="1.1"/>
<circle cx="381.4" cy="548.6" r="3.2" fill="#000" stroke="#3f7fd0" stroke-width="1.1"/>
<circle cx="385.6" cy="552.8" r="3.2" fill="#000" stroke="#3f7fd0" stroke-width="1.1"/>
<circle cx="374.7" cy="554.5" r="3.2" fill="#000" stroke="#3f7fd0" stroke-width="1.1"/>
<circle cx="373.0" cy="556.6" r="3.2" fill="#000" stroke="#3f7fd0" stroke-width="1.1"/>
<circle cx="337.7" cy="556.6" r="3.2" fill="#000" stroke="#3f7fd0" stroke-width="1.1"/>
<circle cx="336.1" cy="558.7" r="3.2" fill="#000" stroke="#3f7fd0" stroke-width="1.1"/>
<circle cx="323.4" cy="558.7" r="3.2" fill="#000" stroke="#3f7fd0" stroke-width="1.1"/>
<circle cx="336.6" cy="560.0" r="3.2" fill="#000" stroke="#3f7fd0" stroke-width="1.1"/>
<circle cx="362.9" cy="563.7" r="3.2" fill="#000" stroke="#3f7fd0" stroke-width="1.1"/>
<circle cx="382.3" cy="563.4" r="3.2" fill="#000" stroke="#3f7fd0" stroke-width="1.1"/>
<circle cx="334.4" cy="564.5" r="3.2" fill="#000" stroke="#3f7fd0" stroke-width="1.1"/>
<circle cx="316.7" cy="569.2" r="3.2" fill="#000" stroke="#3f7fd0" stroke-width="1.1"/>
<circle cx="336.6" cy="568.7" r="3.2" fill="#000" stroke="#3f7fd0" stroke-width="1.1"/>
<circle cx="333.5" cy="571.3" r="3.2" fill="#000" stroke="#3f7fd0" stroke-width="1.1"/>
<circle cx="352.9" cy="570.1" r="3.2" fill="#000" stroke="#3f7fd0" stroke-width="1.1"/>
<circle cx="375.5" cy="572.9" r="3.2" fill="#000" stroke="#3f7fd0" stroke-width="1.1"/>
<circle cx="347.3" cy="576.8" r="3.2" fill="#000" stroke="#3f7fd0" stroke-width="1.1"/>
<circle cx="352.9" cy="574.6" r="3.2" fill="#000" stroke="#3f7fd0" stroke-width="1.1"/>
<circle cx="352.9" cy="579.2" r="3.2" fill="#000" stroke="#3f7fd0" stroke-width="1.1"/>
<circle cx="362.4" cy="579.3" r="3.2" fill="#000" stroke="#3f7fd0" stroke-width="1.1"/>
<circle cx="344.5" cy="581.3" r="3.2" fill="#000" stroke="#3f7fd0" stroke-width="1.1"/>
<circle cx="342.8" cy="583.5" r="3.2" fill="#000" stroke="#3f7fd0" stroke-width="1.1"/>
<circle cx="353.4" cy="586.9" r="3.2" fill="#000" stroke="#3f7fd0" stroke-width="1.1"/>
<circle cx="329.8" cy="591.9" r="3.2" fill="#000" stroke="#3f7fd0" stroke-width="1.1"/>
<circle cx="331.5" cy="591.4" r="3.2" fill="#000" stroke="#3f7fd0" stroke-width="1.1"/>
<circle cx="343.3" cy="593.9" r="3.2" fill="#000" stroke="#3f7fd0" stroke-width="1.1"/>
<line x1="311.3" y1="580.8" x2="431.5" y2="506.3" stroke="#000" stroke-width="1.4"/>
</svg>
</body></html>
